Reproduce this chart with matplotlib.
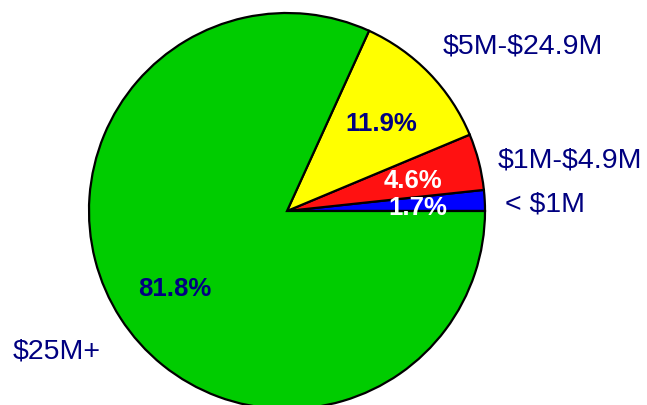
import matplotlib
matplotlib.use("Agg")
import matplotlib.pyplot as plt

plt.rcParams["text.parse_math"] = False

# data (counter-clockwise from 3 o'clock)
categories = ["< $1M", "$1M-$4.9M", "$5M-$24.9M", "$25M+"]
shares = [1.7, 4.6, 11.9, 81.8]
colors = ["#0000FF", "#FF1111", "#FFFF00", "#00CC00"]
pct_colors = ["white", "white", "#000080", "#000080"]

NAVY = "#000080"
W, H = 647, 406

fig = plt.figure(figsize=(W / 100, H / 100), dpi=100)
fig.patch.set_facecolor("white")
ax = fig.add_axes([0, 0, 1, 1])

# pie in pixel coordinates (y axis flipped -> counterclock=False keeps CCW on screen)
ax.pie(shares, colors=colors, startangle=0, counterclock=False,
       center=(287, 212), radius=198, frame=True,
       wedgeprops=dict(edgecolor="black", linewidth=1.6))
ax.set_xlim(0, W); ax.set_ylim(H, 0)
ax.set_aspect("equal"); ax.axis("off")

# category labels (left x, baseline y)
label_pos = [(505, 212), (498, 168), (443, 54), (13, 359)]
for name, (x, y) in zip(categories, label_pos):
    ax.text(x, y, name, ha="left", va="baseline", color=NAVY,
            fontsize=20.5, family="Liberation Sans")

# percentage labels (center x, baseline y)
pct_pos = [(418, 215), (413, 188), (381, 131), (175, 296)]
for v, c, (x, y) in zip(shares, pct_colors, pct_pos):
    ax.text(x, y, f"{v:.1f}%", ha="center", va="baseline", color=c,
            fontsize=18.5, fontweight="bold", family="Liberation Sans")

fig.savefig("out.png", dpi=100, facecolor="white")
